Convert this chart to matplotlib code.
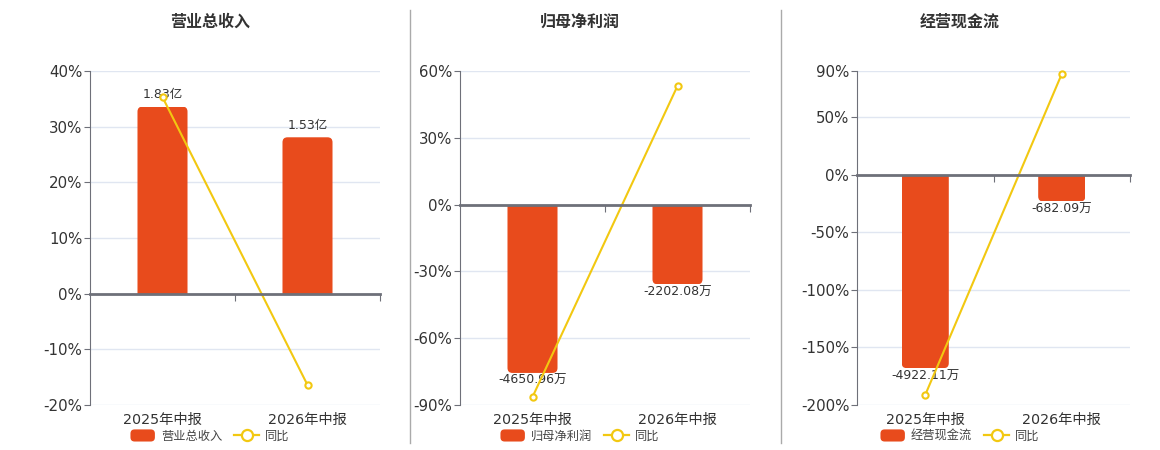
import matplotlib
matplotlib.use('Agg')
import matplotlib.pyplot as plt
from matplotlib.patches import FancyBboxPatch, Patch
from matplotlib.lines import Line2D
from matplotlib.legend_handler import HandlerPatch
from matplotlib.transforms import blended_transform_factory
from matplotlib.ticker import FuncFormatter

plt.rcParams['font.family'] = ['DejaVu Sans', 'Noto Sans CJK SC']

# 数据
categories = ['2025年中报', '2026年中报']
titles = ['营业总收入', '归母净利润', '经营现金流']

revenue = [1.83, 1.53]            # 亿
revenue_labels = ['1.83亿', '1.53亿']
revenue_yoy = [35.3, -16.4]

profit = [-4650.96, -2202.08]     # 万
profit_labels = ['-4650.96万', '-2202.08万']
profit_yoy = [-86.4, 53.3]

cash = [-4922.11, -682.09]        # 万
cash_labels = ['-4922.11万', '-682.09万']
cash_yoy = [-191.2, 87.4]

y_limits = [(-20, 40), (-90, 60), (-200, 90)]
y_ticks = [[-20, -10, 0, 10, 20, 30, 40],
           [-90, -60, -30, 0, 30, 60],
           [-200, -150, -100, -50, 0, 50, 90]]

BAR_C = '#E84B1C'
LINE_C = '#F2C811'
AXIS_C = '#6E7079'
GRID_C = '#E0E6F1'

W, H = 1160, 450
fig = plt.figure(figsize=(W / 100, H / 100), dpi=100)

# 面板位置 (像素)
panels = [(90, 380, 210), (460, 750, 580), (857, 1130, 960)]
top_px, bot_px = 71, 405

series = [(revenue, revenue_labels, revenue_yoy),
          (profit, profit_labels, profit_yoy),
          (cash, cash_labels, cash_yoy)]


def round_patch(legend, orig_handle, xdescent, ydescent, width, height, fontsize):
    return FancyBboxPatch((-xdescent, -ydescent), width, height,
                          boxstyle='round,pad=0,rounding_size=3')


for i, ((left, right, cx), (vals, labs, yoy)) in enumerate(zip(panels, series)):
    rect = [left / W, 1 - bot_px / H, (right - left) / W, (bot_px - top_px) / H]
    ax = fig.add_axes(rect)
    lo, hi = y_limits[i]
    ax.set_xlim(-0.5, 1.5)
    ax.set_ylim(lo, hi)
    ax.set_yticks(y_ticks[i])
    ax.yaxis.set_major_formatter(FuncFormatter(lambda v, p: f'{v:.0f}%'))
    ax.grid(axis='y', color=GRID_C, lw=1)
    ax.set_axisbelow(True)
    for s in ['top', 'right', 'bottom']:
        ax.spines[s].set_visible(False)
    ax.spines['left'].set_color(AXIS_C)
    ax.tick_params(axis='y', colors=AXIS_C, labelcolor='#333333', labelsize=10.8,
                   length=4, pad=1.5)
    ax.tick_params(axis='x', bottom=False, labelbottom=False)

    # 柱状图 (隐藏的副轴)
    axb = ax.twinx()
    ext = max(vals, key=abs)
    k = abs(ext) / (0.84 * (hi if ext > 0 else -lo))
    axb.set_ylim(lo * k, hi * k)
    axb.axis('off')
    bars = axb.bar(range(len(categories)), vals, width=0.345, color=BAR_C)
    ax_w_px = right - left
    ax_h_px = bot_px - top_px
    r = 5 * 2.0 / ax_w_px
    aspect = ((hi - lo) * k / ax_h_px) / (2.0 / ax_w_px)
    for b in bars:
        b.set_visible(False)
        x0, y0, bw, bh = b.get_x(), b.get_y(), b.get_width(), b.get_height()
        ry = r * aspect
        if bh >= 0:
            yy, hh = y0 - ry, bh + ry
        else:
            yy, hh = y0 + bh, -bh + ry
        fp = FancyBboxPatch((x0, yy), bw, hh,
                            boxstyle=f'round,pad=0,rounding_size={r}',
                            mutation_aspect=aspect, fc=BAR_C, ec='none')
        axb.add_patch(fp)
        fp.set_clip_path(b)
    for j, (v, t) in enumerate(zip(vals, labs)):
        if v >= 0:
            axb.annotate(t, (j, v), xytext=(0, 4), textcoords='offset points',
                         ha='center', va='bottom', fontsize=9, color='#333333')
        else:
            axb.annotate(t, (j, v), xytext=(0, -1), textcoords='offset points',
                         ha='center', va='top', fontsize=9, color='#333333')

    # 同比折线
    axl = ax.twinx()
    axl.set_ylim(lo, hi)
    axl.set_yticks([])
    axl.xaxis.set_visible(True)
    for s in ['top', 'right', 'left']:
        axl.spines[s].set_visible(False)
    axl.spines['bottom'].set_position(('data', 0))
    axl.spines['bottom'].set_color(AXIS_C)
    axl.spines['bottom'].set_linewidth(2)
    axl.set_xticks([0.5, 1.5])
    axl.tick_params(axis='x', colors=AXIS_C, length=5, labelbottom=False)
    axl.plot(range(len(categories)), yoy, color=LINE_C, lw=1.5, marker='o',
             ms=4.5, mfc='white', mec=LINE_C, mew=1.5, clip_on=False)

    trans = blended_transform_factory(ax.transData, ax.transAxes)
    for j, c in enumerate(categories):
        ax.text(j, -0.045, c, transform=trans, ha='center', va='center',
                fontsize=10.3, color='#333333')

    fig.text(cx / W, 1 - 22 / H, titles[i], ha='center', va='center',
             fontsize=11.5, fontweight='bold', color='#333333')

    handles = [Patch(fc=BAR_C, ec='none'),
               Line2D([], [], color=LINE_C, lw=1.6, marker='o', ms=8,
                      mfc='white', mec=LINE_C, mew=1.6)]
    fig.legend(handles, [titles[i], '同比'], loc='center',
               bbox_to_anchor=(cx / W, 1 - 436 / H), ncol=2, frameon=False,
               fontsize=8.8, handlelength=2.0, handleheight=1.15,
               columnspacing=1.0, handletextpad=0.5, labelcolor='#444444',
               handler_map={Patch: HandlerPatch(patch_func=round_patch)})

# 分隔线
for xs in [410, 781]:
    fig.add_artist(Line2D([xs / W, xs / W], [1 - 10 / H, 1 - 443 / H],
                          color='#AAAAAA', lw=1))

fig.savefig('out.png', dpi=100)
